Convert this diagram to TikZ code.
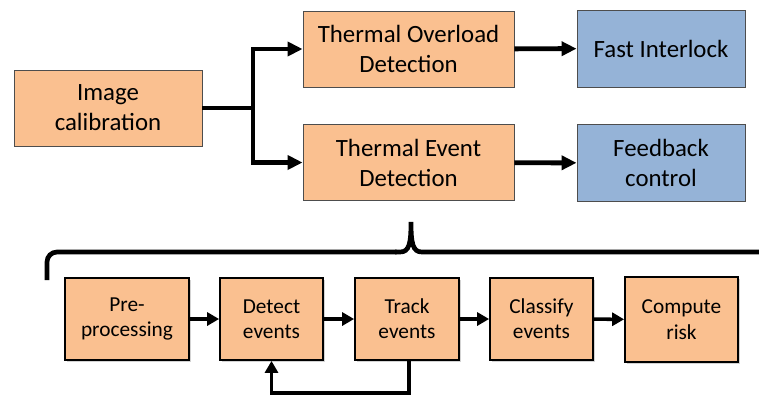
\documentclass[tikz,border=0pt]{standalone}
\usepackage{fontspec}
\setmainfont{Carlito}
\usetikzlibrary{arrows.meta,shadows}

\definecolor{StageColor}{HTML}{FAC090}
\definecolor{ActionColor}{HTML}{95B3D7}
\definecolor{BorderColor}{HTML}{4D4D4D}
\tikzstyle{ts-block-base}=[rectangle,
                             text centered,
                             align=center,
                             inner sep=0pt,
                            ]
\tikzstyle{stage}=[ts-block-base,
                                  fill={StageColor},
                                  draw={BorderColor},
                                  line width=0.8pt,
                                  font=\fontsize{21.2}{25.6}\selectfont,
                                  minimum height=2.28cm]
\tikzstyle{action}=[stage,
                                  fill={ActionColor},
                                  minimum width=5.04cm,
                                  minimum height=2.31cm]
\tikzstyle{substep}=[ts-block-base,
                                  fill={StageColor},
                                  draw=black,
                                  line width=1.5pt,
                                  drop shadow={shadow xshift=0.07cm, shadow yshift=-0.07cm, opacity=0.35},
                                  font=\fontsize{18.2}{21.6}\selectfont,
                                  minimum height=2.46cm]
\tikzstyle{flow}=[-{Triangle[length=0.45cm, width=0.42cm]}, line width=4.2pt]
\tikzstyle{subflow}=[-{Triangle[length=0.36cm, width=0.39cm]}, line width=3pt]

\begin{document}
\begin{tikzpicture}
\path[use as bounding box, clip] (0cm, 0cm) rectangle (22.77cm, -11.82cm);

\node at (3.24cm,   -3.24cm) (detection_calib)    [stage, minimum width=5.64cm]  {Image\\calibration};
\node at (12.255cm, -1.47cm) (detection_overload) [stage, minimum width=6.33cm]  {Thermal Overload\\Detection};
\node at (12.255cm, -4.875cm) (detection_event)   [stage, minimum width=6.33cm]  {Thermal Event\\Detection};
\node at (19.83cm,  -1.455cm) (action_interlock)  [action]                       {Fast Interlock};
\node at (19.83cm,  -4.89cm) (action_feedback)    [action]                       {Feedback\\control};

\coordinate (branch) at (7.59cm, -3.24cm);

\draw[line width=4.2pt] (detection_calib) -- (branch);
\draw[flow] (branch) |- (detection_overload);
\draw[flow] (branch) |- (detection_event);
\draw[flow] (detection_overload) -- (action_interlock);
\draw[flow] (detection_event) -- (action_feedback);

% brace under the event detection
\draw[line width=4pt, rounded corners=0.3cm] (1.41cm, -8.4cm) -- (1.41cm, -7.56cm) -- (11.9cm, -7.56cm);
\draw[line width=4pt] (11.85cm, -7.56cm) -- (12.0cm, -7.56cm)
      .. controls (12.28cm, -7.56cm) and (12.33cm, -7.3cm) .. (12.33cm, -6.66cm)
      .. controls (12.33cm, -7.3cm) and (12.38cm, -7.56cm) .. (12.66cm, -7.56cm) -- (23.5cm, -7.56cm);

\node at (3.81cm,   -9.57cm) (event_step1) [substep, minimum width=3.72cm] {Pre-\\processing};
\node at (8.145cm,  -9.57cm) (event_step2) [substep, minimum width=3.09cm] {Detect\\events};
\node at (12.21cm,  -9.57cm) (event_step3) [substep, minimum width=3.12cm] {Track\\events};
\node at (16.245cm, -9.57cm) (event_step4) [substep, minimum width=3.09cm] {Classify\\events};
\node at (20.445cm, -9.585cm) (event_step5) [substep, minimum width=3.39cm, minimum height=2.55cm] {Compute\\risk};

\draw[subflow] (event_step1) -- (event_step2);
\draw[subflow] (event_step2) -- (event_step3);
\draw[subflow] (event_step3) -- (event_step4);
\draw[subflow] (event_step4) -- (event_step5);
\draw[subflow] ([xshift=0.06cm]event_step3.south) -- ++(0cm, -0.96cm) -| (event_step2.south);
\end{tikzpicture}
\end{document}
